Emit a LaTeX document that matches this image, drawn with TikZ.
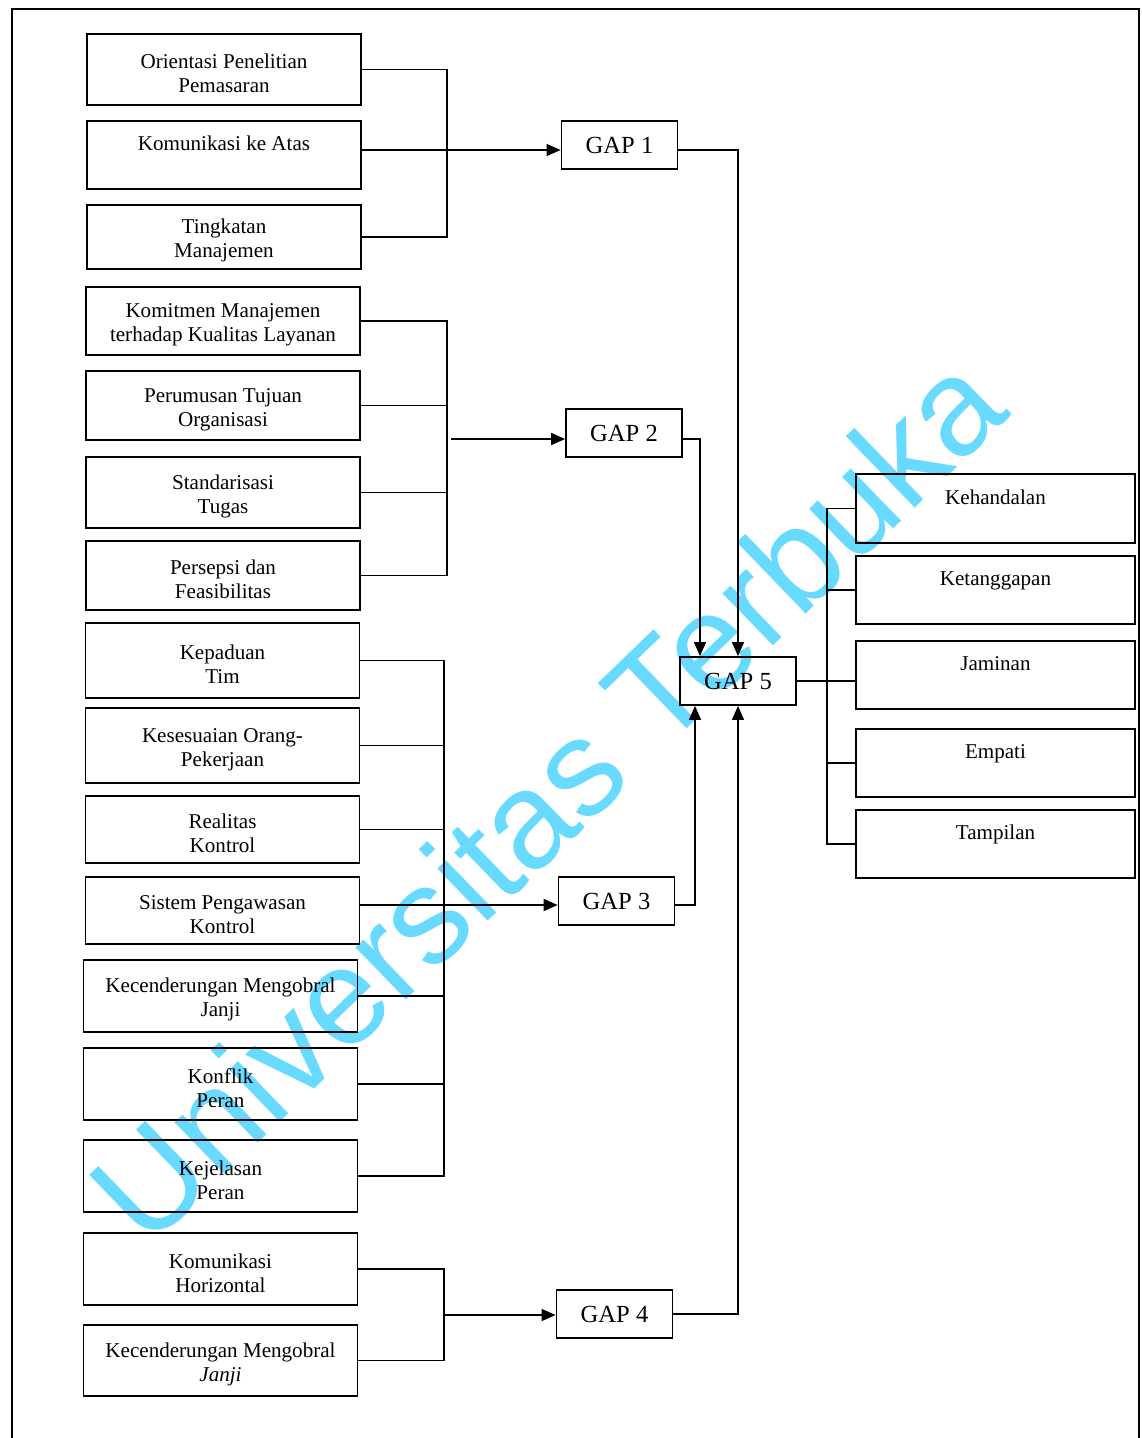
\documentclass[tikz,border=0pt]{standalone}
\usepackage{fontspec}
\setmainfont{Liberation Serif}
\newfontfamily\wmfont{Liberation Sans}
\usetikzlibrary{arrows.meta,calc}
\definecolor{wmcyan}{RGB}{104,218,255}
\def\boxfont{\fontsize{12}{13.6}\selectfont}
\def\gapfont{\fontsize{14}{16}\selectfont}
\tikzset{
  box/.style={draw, line width=1pt, inner sep=0pt, align=center, font=\boxfont, text height=26.3pt, minimum height=#1},
  lbox/.style={box=#1, minimum width=5.48cm},
  rbox/.style={box=#1, minimum width=5.58cm},
  gapbox/.style={draw, line width=1pt, minimum width=2.32cm, minimum height=0.96cm, inner sep=0pt, font=\gapfont},
  link/.style={line width=0.8pt},
  arr/.style={link, -{Triangle[length=0.28cm,width=0.24cm]}},
}

\begin{document}
\begin{tikzpicture}[x=0.02cm,y=-0.02cm]
	%%%%% START %%%%%
	\useasboundingbox (0,0) rectangle (1142,1438);
	\draw[line width=1pt] (12,1438) -- (12,9) -- (1139,9) -- (1139,1438);
	
	% kelompok GAP 1
	\node[lbox=1.42cm] (op) at (224,69.5) {Orientasi Penelitian\\Pemasaran};
	\node[lbox=1.36cm] (ka) at (224,155) {Komunikasi ke Atas\\\strut};
	\node[lbox=1.28cm] (tm) at (224,237) {Tingkatan\\Manajemen};
	
	% kelompok GAP 2
	\node[lbox=1.36cm] (km) at (223,321) {Komitmen Manajemen\\terhadap Kualitas Layanan};
	\node[lbox=1.38cm] (pt) at (223,405.5) {Perumusan Tujuan\\Organisasi};
	\node[lbox=1.42cm] (st) at (223,492.5) {Standarisasi\\Tugas};
	\node[lbox=1.38cm] (pf) at (223,575.5) {Persepsi dan\\Feasibilitas};
	
	% kelompok GAP 3
	\node[lbox=1.50cm] (kt) at (222.5,660.5) {Kepaduan\\Tim};
	\node[lbox=1.50cm] (ko) at (222.5,745.5) {Kesesuaian Orang-\\Pekerjaan};
	\node[lbox=1.34cm] (rk) at (222.5,829.5) {Realitas\\Kontrol};
	\node[lbox=1.34cm] (sp) at (222.5,910.5) {Sistem Pengawasan\\Kontrol};
	\node[lbox=1.44cm] (kj) at (220.5,996) {Kecenderungan Mengobral\\Janji};
	\node[lbox=1.44cm] (kp) at (220.5,1084) {Konflik\\Peran};
	\node[lbox=1.44cm] (kjp) at (220.5,1176) {Kejelasan\\Peran};
	
	% kelompok GAP 4
	\node[lbox=1.44cm] (kh) at (220.5,1269) {Komunikasi\\Horizontal};
	\node[lbox=1.42cm] (kj2) at (220.5,1360.5) {Kecenderungan Mengobral\\\textit{Janji}};
	
	% gap
	\node[gapbox] (gap1) at (619.5,145) {GAP 1};
	\node[gapbox] (gap2) at (624,433) {GAP 2};
	\node[gapbox] (gap3) at (616.5,901) {GAP 3};
	\node[gapbox] (gap4) at (614.5,1314) {GAP 4};
	\node[gapbox] (gap5) at (738,681) {GAP 5};
	
	% dimensi kualitas layanan
	\node[rbox=1.38cm] (keh) at (995.5,508.5) {Kehandalan\\\strut};
	\node[rbox=1.36cm] (ket) at (995.5,590) {Ketanggapan\\\strut};
	\node[rbox=1.36cm] (jam) at (995.5,675) {Jaminan\\\strut};
	\node[rbox=1.36cm] (emp) at (995.5,763) {Empati\\\strut};
	\node[rbox=1.36cm] (tam) at (995.5,844) {Tampilan\\\strut};
	
	\coordinate (b1) at (447,150);
	\coordinate (b2) at (447,439);
	\coordinate (b3) at (444,905);
	\coordinate (b4) at (444,1315);
	\coordinate (rb) at (827,678);
	
	% garis GAP 1
	\draw[link] (op.east) -- (op.east -| b1) |- (tm.east);
	\draw[arr] (ka.east |- b1) -- (b1 -| gap1.west);
	
	% garis GAP 2
	\draw[link] (km.east) -- (km.east -| b2) |- (pf.east);
	\draw[link] (pt.east) -- (pt.east -| b2);
	\draw[link] (st.east) -- (st.east -| b2);
	\draw[arr] ([xshift=0.08cm]b2) -- (b2 -| gap2.west);
	
	% garis GAP 3
	\draw[link] (kt.east) -- (kt.east -| b3) |- (kjp.east);
	\draw[link] (ko.east) -- (ko.east -| b3);
	\draw[link] (rk.east) -- (rk.east -| b3);
	\draw[link] (kj.east) -- (kj.east -| b3);
	\draw[link] (kp.east) -- (kp.east -| b3);
	\draw[arr] (sp.east |- b3) -- (b3 -| gap3.west);
	
	% garis GAP 4
	\draw[link] (kh.east) -- (kh.east -| b4) |- (kj2.east);
	\draw[arr] (b4) -- (b4 -| gap4.west);
	
	% ke GAP 5
	\draw[arr] (b1 -| gap1.east) -| (gap5.north);
	\draw[arr] (b2 -| gap2.east) -| ([xshift=-0.76cm]gap5.north);
	\draw[arr] (b3 -| gap3.east) -| ([xshift=-0.86cm]gap5.south);
	\draw[arr] (gap4.east) -| (gap5.south);
	
	% GAP 5 ke dimensi
	\draw[link] (gap5.east) -- (gap5.east -| jam.west);
	\draw[link] (keh.west) -- (keh.west -| rb) |- (tam.west);
	\draw[link] (ket.west) -- (ket.west -| rb);
	\draw[link] (emp.west) -- (emp.west -| rb);
	
	% watermark
	\begin{scope}[blend mode=multiply]
		\node[text=wmcyan, font=\wmfont\fontsize{78}{78}\selectfont, rotate=44] (wm) at (546,797) {Universitas Terbuka};
	\end{scope}
	%%%%% END %%%%%
\end{tikzpicture}
\end{document}
